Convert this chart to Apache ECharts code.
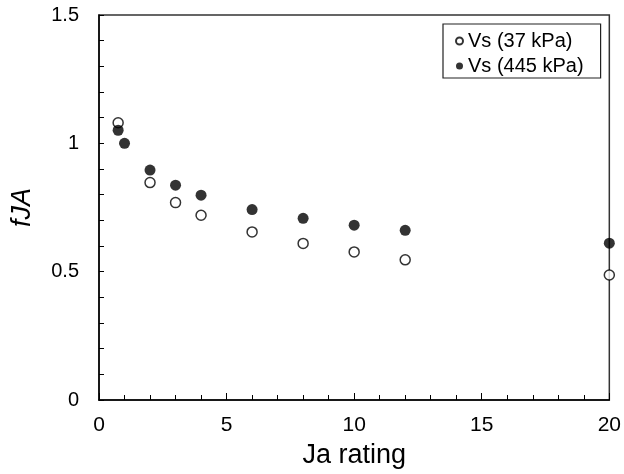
<!DOCTYPE html>
<html>
<head>
<meta charset="utf-8">
<script src="https://cdn.jsdelivr.net/npm/echarts@6/dist/echarts.min.js"></script>
<style>html,body{margin:0;padding:0;background:#fff}#c{width:624px;height:474px}</style>
</head>
<body>
<div id="c"></div>
<script>
const jaLow = [0.75, 2, 3, 4, 6, 8, 10, 12, 20];
const fjaLow = [1.08, 0.847, 0.769, 0.72, 0.655, 0.61, 0.577, 0.546, 0.487];
const jaHigh = [0.75, 1, 2, 3, 4, 6, 8, 10, 12, 20];
const fjaHigh = [1.051, 1.0, 0.896, 0.837, 0.798, 0.742, 0.708, 0.681, 0.661, 0.611];
const seriesNames = ['Vs (37 kPa)', 'Vs (445 kPa)'];
const xTitle = 'Ja rating';
const yTitle = 'fJA';

const chart = echarts.init(document.getElementById('c'));
const font = '"Liberation Sans", Arial, sans-serif';
chart.setOption({
  animation: false,
  grid: {left: 99, right: 14, top: 15, bottom: 73, show: true, borderColor: '#333', borderWidth: 1.5},
  legend: {
    orient: 'vertical', left: 443, top: 24,
    borderColor: '#222', borderWidth: 1.2, padding: [7, 17, 2, 12], itemGap: 5,
    itemWidth: 7, itemHeight: 7, icon: 'circle',
    textStyle: {fontFamily: font, fontSize: 20, lineHeight: 20, color: '#000', padding: [0, 0, 0, 0]},
    data: seriesNames
  },
  xAxis: {
    type: 'value', min: 0, max: 20, interval: 5,
    name: xTitle, nameLocation: 'middle', nameGap: 42,
    nameTextStyle: {fontFamily: font, fontSize: 27, color: '#000'},
    axisLine: {lineStyle: {color: '#000', width: 1.5}},
    axisTick: {inside: true, length: 7, lineStyle: {color: '#000'}},
    minorTick: {show: true, splitNumber: 5, length: 5, lineStyle: {color: '#000'}},
    axisLabel: {fontFamily: font, fontSize: 21, color: '#000', margin: 15},
    splitLine: {show: false}
  },
  yAxis: {
    type: 'value', min: 0, max: 1.5, interval: 0.5,
    name: yTitle, nameLocation: 'middle', nameGap: 63,
    nameTextStyle: {fontFamily: font, fontSize: 27, color: '#000', fontStyle: 'italic'},
    axisLine: {lineStyle: {color: '#000', width: 1.5}},
    axisTick: {inside: true, length: 5, lineStyle: {color: '#000'}},
    minorTick: {show: true, splitNumber: 5, length: 5, lineStyle: {color: '#000'}},
    axisLabel: {fontFamily: font, fontSize: 20, color: '#000', margin: 20},
    splitLine: {show: false}
  },
  series: [
    {
      name: seriesNames[0], type: 'scatter', symbol: 'circle', symbolSize: 10,
      itemStyle: {color: '#fff', borderColor: '#000', borderWidth: 1.5},
      data: jaLow.map((x, i) => [x, fjaLow[i]]), z: 2
    },
    {
      name: seriesNames[1], type: 'scatter', symbol: 'circle', symbolSize: 11,
      itemStyle: {color: '#000', borderColor: '#000', borderWidth: 0},
      data: jaHigh.map((x, i) => [x, fjaHigh[i]]), z: 3
    }
  ]
});
</script>
</body>
</html>
